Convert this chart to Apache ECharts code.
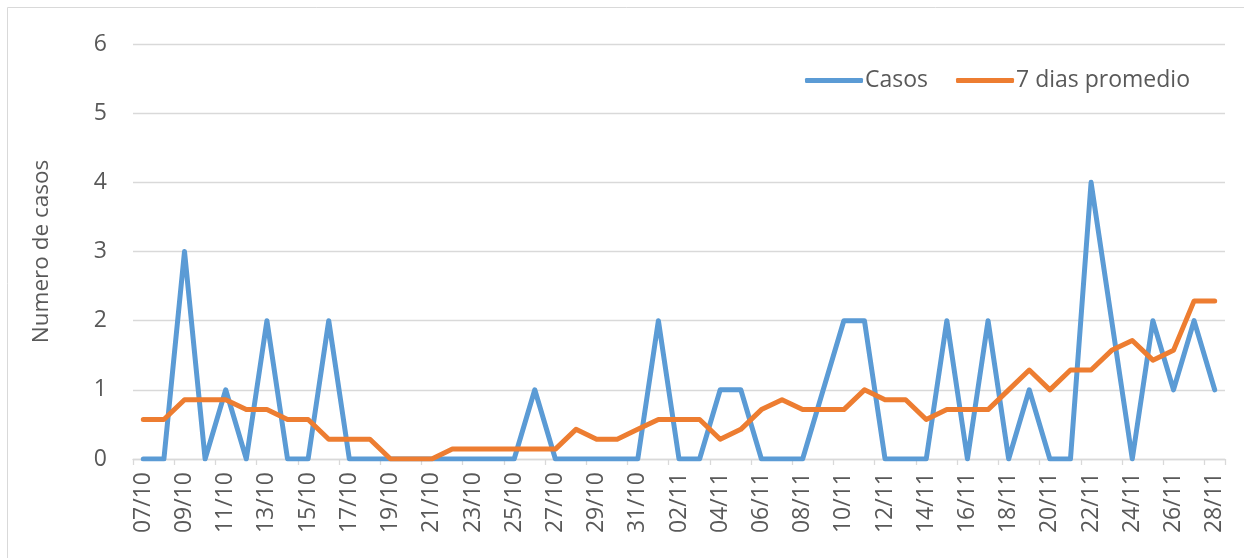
<!DOCTYPE html>
<html>
<head>
<meta charset="utf-8">
<script src="https://cdn.jsdelivr.net/npm/echarts@6/dist/echarts.min.js"></script>
<style>
html,body{margin:0;padding:0;background:#fff;}
#chart{width:1244px;height:558px;}
</style>
</head>
<body>
<div id="chart"></div>
<script>
const categories = [
  "07/10","08/10","09/10","10/10","11/10","12/10","13/10","14/10","15/10","16/10",
  "17/10","18/10","19/10","20/10","21/10","22/10","23/10","24/10","25/10","26/10",
  "27/10","28/10","29/10","30/10","31/10",
  "01/11","02/11","03/11","04/11","05/11","06/11","07/11","08/11","09/11","10/11",
  "11/11","12/11","13/11","14/11","15/11","16/11","17/11","18/11","19/11","20/11",
  "21/11","22/11","23/11","24/11","25/11","26/11","27/11","28/11"
];
const casos = [
  0,0,3,0,1,0,2,0,0,2,
  0,0,0,0,0,0,0,0,0,1,
  0,0,0,0,0,
  2,0,0,1,1,0,0,0,1,2,
  2,0,0,0,2,0,2,0,1,0,
  0,4,2,0,2,1,2,1
];
const promedio7 = [
  0.571,0.571,0.857,0.857,0.857,0.714,0.714,0.571,0.571,0.286,
  0.286,0.286,0,0,0,0.143,0.143,0.143,0.143,0.143,
  0.143,0.429,0.286,0.286,0.429,
  0.571,0.571,0.571,0.286,0.429,0.714,0.857,0.714,0.714,0.714,
  1.0,0.857,0.857,0.571,0.714,0.714,0.714,1.0,1.286,1.0,
  1.286,1.286,1.571,1.714,1.429,1.571,2.286,2.286
];
const seriesNames = ["Casos", "7 dias promedio"];
const yAxisTitle = "Numero de casos";

const FONT = "'Open Sans', 'Liberation Sans', sans-serif";
const TXT = "#595959";
const GRID = "#d9d9d9";

const chart = echarts.init(document.getElementById('chart'), null, {renderer: 'canvas'});
chart.setOption({
  animation: false,
  textStyle: {fontFamily: FONT, color: TXT},
  graphic: [{
    type: 'rect',
    shape: {x: 7.5, y: 7.5, width: 1400, height: 700},
    style: {fill: 'none', stroke: GRID, lineWidth: 1},
    silent: true
  }],
  grid: {left: 133, right: 19, top: 44, bottom: 99, containLabel: false},
  legend: {
    left: 800, top: 64,
    itemWidth: 58, itemHeight: 5, itemGap: 28,
    icon: 'roundRect',
    textStyle: {fontFamily: FONT, fontSize: 23, color: TXT, padding: [0,0,0,-3]},
    data: seriesNames
  },
  xAxis: {
    type: 'category',
    data: categories,
    boundaryGap: true,
    axisLine: {show: true, lineStyle: {color: GRID, width: 1.3}},
    axisTick: {show: true, interval: 1, length: 6, alignWithLabel: false, lineStyle: {color: GRID, width: 1.3}},
    axisLabel: {interval: 1, rotate: 90, margin: 13, fontFamily: FONT, fontSize: 23, color: TXT}
  },
  yAxis: {
    type: 'value',
    min: 0, max: 6, interval: 1,
    name: yAxisTitle,
    nameLocation: 'middle',
    nameRotate: 90,
    nameGap: 80,
    nameTextStyle: {fontFamily: FONT, fontSize: 22.5, color: TXT},
    axisLine: {show: false},
    axisTick: {show: false},
    axisLabel: {margin: 26, fontFamily: FONT, fontSize: 23, color: TXT},
    splitLine: {show: true, lineStyle: {color: GRID, width: 1.3}}
  },
  series: [
    {
      name: seriesNames[0], type: 'line', data: casos,
      symbol: 'none', smooth: false,
      itemStyle: {color: '#5B9BD5'},
      lineStyle: {color: '#5B9BD5', width: 5, cap: 'round', join: 'round'}
    },
    {
      name: seriesNames[1], type: 'line', data: promedio7,
      symbol: 'none', smooth: false,
      itemStyle: {color: '#ED7D31'},
      lineStyle: {color: '#ED7D31', width: 5, cap: 'round', join: 'round'}
    }
  ]
});
</script>
</body>
</html>
